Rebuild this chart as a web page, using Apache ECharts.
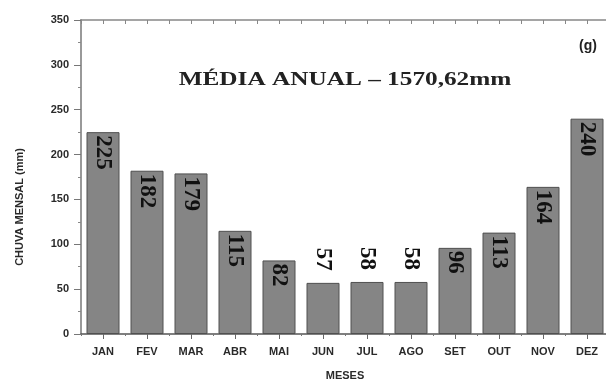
<!DOCTYPE html>
<html>
<head>
<meta charset="utf-8">
<script src="https://cdn.jsdelivr.net/npm/echarts@6/dist/echarts.min.js"></script>
<style>html,body{margin:0;padding:0;background:#fff}#c{width:606px;height:380px}</style>
</head>
<body>
<div id="c"></div>
<script>
const months = ['JAN','FEV','MAR','ABR','MAI','JUN','JUL','AGO','SET','OUT','NOV','DEZ'];
const rainfall = [225, 182, 179, 115, 82, 57, 58, 58, 96, 113, 164, 240];
const yTicks = [0, 50, 100, 150, 200, 250, 300, 350];
const titleText = 'MÉDIA ANUAL – 1570,62mm';
const panelTag = '(g)';
const yName = 'CHUVA MENSAL (mm)';
const xName = 'MESES';

const chart = echarts.init(document.getElementById('c'), null, {renderer: 'canvas'});

const barData = rainfall.map(v => {
  const above = v < 70;
  return {
    value: v,
    label: above
      ? {position: 'top', distance: 12, align: 'right', verticalAlign: 'middle'}
      : {position: 'insideTop', distance: 3, align: 'left', verticalAlign: 'middle'}
  };
});

chart.setOption({
  animation: false,
  backgroundColor: '#ffffff',
  grid: {left: 81, top: 20, width: 528, height: 314, containLabel: false, outerBoundsMode: 'none'},
  xAxis: [
    {
      type: 'category', data: months, position: 'bottom',
      axisLine: {show: true, lineStyle: {color: '#555', width: 1.5}},
      axisTick: {show: true, alignWithLabel: true, length: 5, lineStyle: {color: '#666'}},
      axisLabel: {fontFamily: 'Liberation Sans', fontWeight: 'bold', fontSize: 11, color: '#2a2a2a', margin: 12},
      name: xName, nameLocation: 'middle', nameGap: 36,
      nameTextStyle: {fontFamily: 'Liberation Sans', fontWeight: 'bold', fontSize: 11, color: '#2a2a2a'}
    },
    {
      type: 'value', min: 0, max: 12, interval: 1, position: 'bottom',
      axisLine: {show: false},
      axisTick: {show: true, length: 2, lineStyle: {color: '#777'}},
      axisLabel: {show: false}, splitLine: {show: false}
    },
    {
      type: 'value', min: 0, max: 12, interval: 0.5, position: 'top',
      axisLine: {show: true, lineStyle: {color: '#888', width: 1.5}},
      axisTick: {show: true, inside: true, length: 4, lineStyle: {color: '#888'}},
      axisLabel: {show: false}, splitLine: {show: false}
    }
  ],
  yAxis: {
    type: 'value', min: yTicks[0], max: yTicks[yTicks.length - 1], interval: yTicks[1] - yTicks[0],
    axisLine: {show: true, lineStyle: {color: '#999', width: 2}},
    axisTick: {show: true, length: 7, lineStyle: {color: '#777'}},
    minorTick: {show: true, splitNumber: 2, length: 3, lineStyle: {color: '#888'}},
    splitLine: {show: false},
    axisLabel: {fontFamily: 'Liberation Sans', fontWeight: 'bold', fontSize: 11, color: '#2a2a2a', margin: 12}
  },
  graphic: [
    {
      type: 'text', z: 10, x: 20, y: 207, rotation: Math.PI / 2,
      style: {text: yName, font: 'bold 11px "Liberation Sans"', fill: '#2a2a2a', align: 'center', verticalAlign: 'middle'}
    },
    {
      type: 'text', z: 10, x: 345, y: 80, scaleX: 1.33,
      style: {text: titleText, font: 'bold 19px "Liberation Serif"', fill: '#222', align: 'center', verticalAlign: 'middle'}
    },
    {
      type: 'text', z: 10, x: 588, y: 46,
      style: {text: panelTag, font: 'bold 14px "Liberation Sans"', fill: '#222', align: 'center', verticalAlign: 'middle'}
    }
  ],
  series: [{
    type: 'bar', xAxisIndex: 0, data: barData, barWidth: '75%',
    itemStyle: {color: '#858585', borderColor: '#505050', borderWidth: 1},
    label: {show: true, rotate: -90, fontFamily: 'Liberation Serif', fontWeight: 'bold', fontSize: 23, color: '#111'}
  }]
});
</script>
</body>
</html>
